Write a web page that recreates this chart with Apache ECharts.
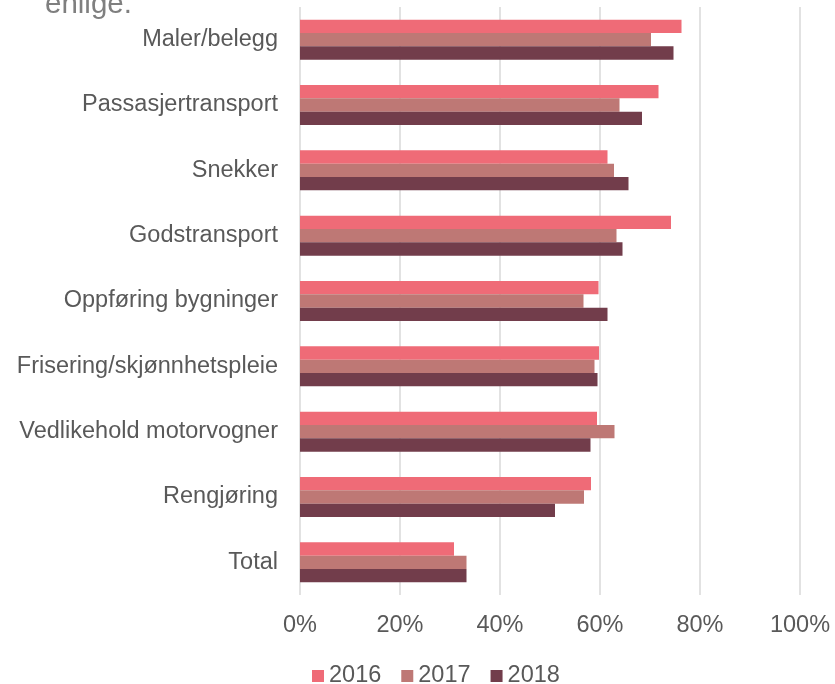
<!DOCTYPE html>
<html>
<head>
<meta charset="utf-8">
<script src="https://cdn.jsdelivr.net/npm/echarts@6/dist/echarts.min.js"></script>
<style>
  html, body { margin: 0; padding: 0; background: #fff; }
  #chart { width: 835px; height: 684px; }
</style>
</head>
<body>
<div id="chart"></div>
<script>
// Bransjer, share per year (fractions of 1)
const categories = [
  'Maler/belegg',
  'Passasjertransport',
  'Snekker',
  'Godstransport',
  'Oppføring bygninger',
  'Frisering/skjønnhetspleie',
  'Vedlikehold motorvogner',
  'Rengjøring',
  'Total'
];
const years = ['2016', '2017', '2018'];
const values2016 = [0.763, 0.717, 0.615, 0.742, 0.597, 0.598, 0.594, 0.582, 0.308];
const values2017 = [0.702, 0.639, 0.628, 0.633, 0.567, 0.589, 0.629, 0.568, 0.333];
const values2018 = [0.747, 0.684, 0.657, 0.645, 0.615, 0.595, 0.581, 0.510, 0.333];
const xTicks = [0, 0.2, 0.4, 0.6, 0.8, 1.0];

const colors = ['#EF6B77', '#BE7875', '#723D4B'];
const textColor = '#595959';
const fontFamily = '"Liberation Sans", Arial, sans-serif';

const chart = echarts.init(document.getElementById('chart'), null, { renderer: 'canvas' });

const seriesData = [values2016, values2017, values2018];

chart.setOption({
  animation: false,
  backgroundColor: '#ffffff',
  color: colors,
  textStyle: { fontFamily: fontFamily },
  graphic: [{
    type: 'text',
    left: 45,
    top: -10,
    style: {
      text: 'enlige.',
      fill: '#7f7f7f',
      font: '29.5px ' + fontFamily
    }
  }],
  grid: {
    left: 300,
    width: 500,
    top: 7,
    height: 588,
    containLabel: false
  },
  legend: {
    data: years,
    left: 307,
    top: 659,
    itemWidth: 12,
    itemHeight: 12,
    itemGap: 20,
    icon: 'rect',
    textStyle: { color: textColor, fontSize: 23.5, fontFamily: fontFamily }
  },
  xAxis: {
    type: 'value',
    min: xTicks[0],
    max: xTicks[xTicks.length - 1],
    interval: 0.2,
    axisLine: { show: false },
    axisTick: { show: false },
    splitLine: { show: true, lineStyle: { color: '#d9d9d9', width: 1.5 } },
    axisLabel: {
      color: textColor,
      fontSize: 23.5,
      fontFamily: fontFamily,
      margin: 19,
      formatter: v => Math.round(v * 100) + '%'
    }
  },
  yAxis: {
    type: 'category',
    data: categories,
    inverse: true,
    axisLine: { show: false },
    axisTick: { show: false },
    splitLine: { show: false },
    axisLabel: {
      color: textColor,
      fontSize: 23.5,
      fontFamily: fontFamily,
      margin: 22
    }
  },
  series: years.map((y, i) => ({
    name: y,
    type: 'bar',
    data: seriesData[i],
    barGap: '0%',
    barCategoryGap: '38.8%',
    itemStyle: { color: colors[i] }
  }))
});
</script>
</body>
</html>
